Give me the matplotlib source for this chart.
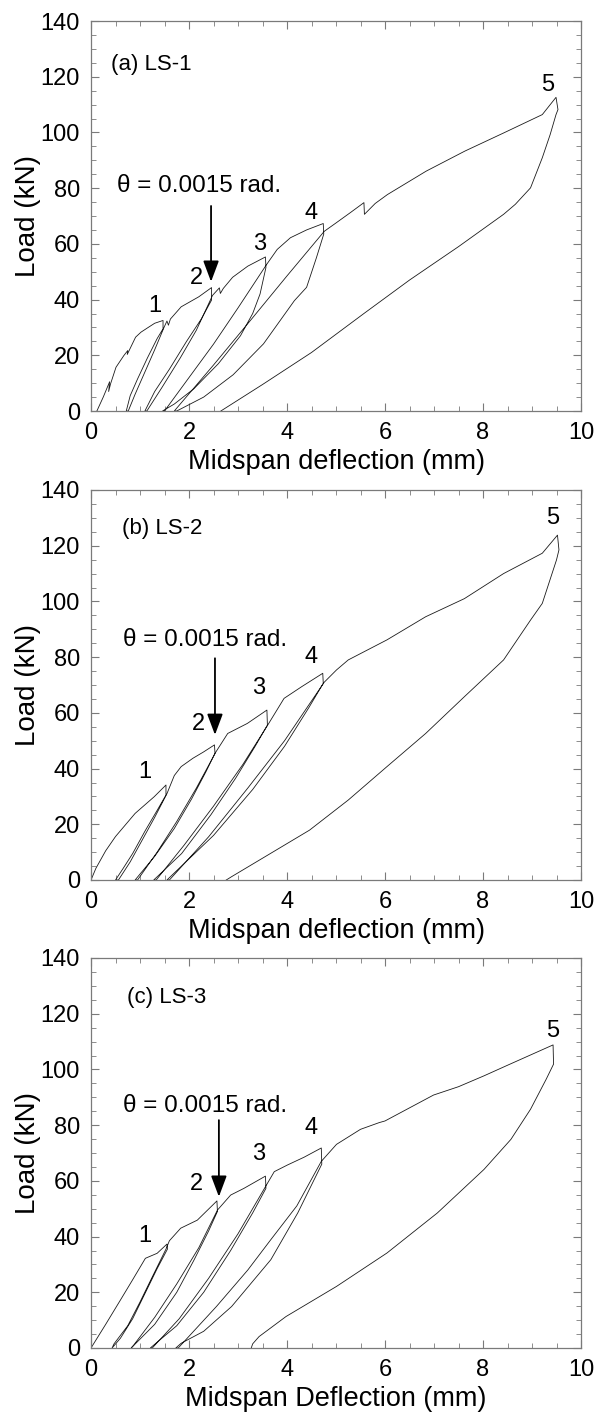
import numpy as np
import matplotlib
matplotlib.use("Agg")
import matplotlib.pyplot as plt
from matplotlib.ticker import MultipleLocator

plt.rcParams["font.family"] = ["Liberation Sans", "DejaVu Sans"]

# LS-1: load-deflection history (mm, kN)
ls1_x = [0.12, 0.25, 0.38, 0.36, 0.40, 0.51, 0.67, 0.75, 0.74, 0.80, 0.91, 1.02, 1.15, 1.30, 1.47, 1.47,
         1.35, 1.15, 0.95, 0.80, 0.72,
         0.76, 0.90, 1.10, 1.30, 1.49,
         1.55, 1.58, 1.62, 1.84, 1.99, 2.20, 2.46, 2.46,
         2.25, 1.95, 1.60, 1.30, 1.10,
         1.14, 1.45, 1.82, 2.15, 2.48,
         2.62, 2.64, 2.70, 2.89, 3.20, 3.56, 3.57,
         3.45, 3.30, 3.05, 2.60, 2.10, 1.70, 1.46,
         1.50, 2.00, 2.50, 3.00, 3.58,
         3.80, 4.07, 4.40, 4.74, 4.75,
         4.60, 4.40, 4.15, 3.52, 2.90, 2.30, 1.75,
         1.70, 2.50, 3.30, 4.00, 4.76,
         5.00, 5.30, 5.57, 5.58, 5.80, 6.05, 6.84, 7.63, 8.42, 9.21, 9.49, 9.53,
         9.49, 9.37, 9.21, 8.97, 8.66, 8.42, 7.50, 6.50, 5.57, 4.50, 3.50, 2.65]
ls1_y = [0.0, 5.0, 10.5, 7.0, 9.8, 15.7, 19.9, 21.7, 20.3, 22.5, 26.5, 28.3, 29.8, 31.5, 32.5, 29.5,
         26.0, 19.0, 11.5, 5.5, 0.0,
         0.0, 6.0, 14.0, 22.0, 30.0,
         32.3, 30.8, 33.0, 37.4, 38.9, 41.0, 44.3, 39.8,
         33.0, 25.0, 15.0, 7.0, 0.0,
         0.0, 8.5, 19.0, 29.0, 41.5,
         44.2, 42.2, 44.0, 48.0, 52.0, 55.3, 51.5,
         42.0, 35.0, 27.0, 17.0, 8.0, 2.5, 0.0,
         0.0, 12.0, 24.0, 37.0, 52.5,
         58.0, 62.2, 65.0, 67.3, 63.5,
         55.0, 44.4, 39.6, 24.1, 13.0, 5.0, 0.0,
         0.0, 16.5, 33.5, 48.5, 64.5,
         67.5, 71.3, 74.8, 70.6, 74.5, 77.7, 86.1, 93.3, 99.8, 106.4, 112.6, 108.2,
         106.4, 99.2, 90.9, 80.1, 74.2, 70.6, 59.0, 47.0, 35.0, 21.0, 9.5, 0.0]

# LS-2
ls2_x = [0.0, 0.10, 0.30, 0.50, 0.90, 1.29, 1.53, 1.53,
         1.35, 1.10, 0.85, 0.65, 0.50,
         0.56, 0.80, 1.05, 1.30, 1.55,
         1.70, 1.84, 2.08, 2.30, 2.52, 2.53,
         2.35, 2.05, 1.70, 1.30, 0.90,
         0.95, 1.35, 1.75, 2.15, 2.55,
         2.79, 3.19, 3.59, 3.60,
         3.35, 2.95, 2.45, 1.85, 1.28,
         1.33, 1.90, 2.50, 3.10, 3.62,
         3.94, 4.30, 4.73, 4.74,
         4.45, 3.95, 3.30, 2.50, 1.55,
         1.60, 2.40, 3.20, 3.95, 4.76,
         5.01, 5.25, 6.04, 6.83, 7.62, 8.42, 9.21, 9.52, 9.55,
         9.50, 9.21, 8.97, 8.42, 7.62, 6.83, 6.04, 5.25, 4.46, 3.67, 2.87, 2.76]
ls2_y = [0.0, 4.2, 10.5, 15.6, 23.9, 29.9, 34.1, 30.5,
         25.0, 17.5, 9.5, 4.0, 0.0,
         0.0, 6.5, 14.5, 22.5, 31.0,
         37.5, 40.7, 43.7, 46.0, 48.5, 45.5,
         39.0, 29.0, 18.5, 8.5, 0.0,
         0.0, 10.0, 21.0, 33.0, 46.0,
         52.6, 56.2, 61.0, 55.6,
         48.0, 36.5, 23.5, 9.5, 0.0,
         0.0, 12.5, 26.5, 41.5, 56.0,
         65.2, 69.4, 74.2, 70.6,
         62.0, 48.0, 32.5, 16.0, 0.0,
         0.0, 15.5, 33.0, 50.0, 71.0,
         75.4, 79.0, 86.2, 94.5, 101.0, 110.0, 117.3, 123.8, 118.5,
         114.9, 99.3, 93.3, 79.0, 65.8, 52.6, 40.7, 28.7, 17.9, 9.6, 1.2, 0.0]

# LS-3
ls3_x = [0.0, 0.30, 0.60, 0.85, 1.11, 1.35, 1.55, 1.56,
         1.35, 1.10, 0.85, 0.60, 0.43,
         0.47, 0.75, 1.00, 1.25, 1.53,
         1.60, 1.83, 2.17, 2.57, 2.58,
         2.40, 2.10, 1.75, 1.30, 0.82,
         0.87, 1.30, 1.75, 2.20, 2.58,
         2.85, 3.12, 3.56, 3.57,
         3.30, 2.85, 2.30, 1.75, 1.21,
         1.25, 1.80, 2.40, 3.00, 3.58,
         3.74, 4.01, 4.35, 4.70, 4.71,
         4.22, 3.67, 2.87, 2.30, 1.84, 1.73,
         1.78, 2.56, 3.20, 3.67, 4.20, 4.70,
         5.01, 5.50, 5.88, 6.00, 6.99, 7.50, 8.02, 8.50, 9.43, 9.44,
         9.29, 8.97, 8.57, 8.02, 7.07, 6.04, 5.01, 3.98, 3.43, 3.30, 3.27]
ls3_y = [0.0, 8.5, 17.2, 24.5, 32.2, 34.0, 37.3, 35.5,
         28.5, 19.5, 10.5, 3.5, 0.0,
         1.5, 8.0, 16.5, 25.5, 35.5,
         38.5, 43.0, 45.9, 52.8, 49.0,
         42.0, 31.5, 20.0, 8.5, 0.0,
         1.0, 11.0, 23.0, 36.0, 49.5,
         54.9, 57.3, 61.7, 57.3,
         48.5, 35.0, 20.0, 8.0, 0.0,
         0.0, 10.5, 25.0, 41.0, 58.5,
         63.3, 65.7, 68.5, 71.8, 66.0,
         48.5, 31.7, 14.9, 6.0, 1.7, 0.0,
         0.0, 14.9, 28.0, 38.9, 51.0, 67.0,
         73.1, 78.5, 80.9, 81.5, 90.8, 93.8, 97.7, 101.5, 108.8, 101.9,
         96.5, 85.7, 74.9, 64.1, 48.5, 34.1, 22.1, 11.3, 4.1, 1.5, 0.0]

panel_titles = ["(a) LS-1", "(b) LS-2", "(c) LS-3"]
x_labels = ["Midspan deflection (mm)", "Midspan deflection (mm)", "Midspan Deflection (mm)"]
cycle_labels = ["1", "2", "3", "4", "5"]
# label positions (x, y) for cycle numbers in each panel
cycle_pos = [
    [(1.30, 37.8), (2.16, 47.9), (3.44, 59.9), (4.50, 71.2), (9.31, 117.1)],
    [(1.09, 38.9), (2.19, 55.9), (3.43, 68.8), (4.50, 80.2), (9.43, 129.8)],
    [(1.09, 40.1), (2.16, 58.7), (3.43, 69.5), (4.50, 79.1), (9.43, 113.9)],
]
title_pos = [(0.40, 124.5), (0.64, 126.2), (0.74, 125.9)]
# arrow: x, start y, tip y ; text centre
arrow_x = [2.45, 2.53, 2.61]
arrow_top = [73.6, 79.6, 81.8]
arrow_tip = [46.4, 52.1, 54.3]
theta_pos = [(2.21, 80.7), (2.32, 86.2), (2.32, 86.9)]

curves = [(ls1_x, ls1_y), (ls2_x, ls2_y), (ls3_x, ls3_y)]

W, H = 608, 1416
fig = plt.figure(figsize=(W / 100, H / 100), dpi=100)

ax_left = 91 / W
ax_w = 490 / W
ax_h = 390 / H
bottoms_px = [411, 880, 1348]

spine_col = "#7a7a7a"

for i in range(3):
    ax = fig.add_axes([ax_left, (H - bottoms_px[i]) / H, ax_w, ax_h])
    cx, cy = curves[i]
    ax.plot(cx, cy, color="#1a1a1a", lw=0.6)

    ax.set_xlim(0, 10)
    ax.set_ylim(0, 140)
    ax.xaxis.set_major_locator(MultipleLocator(2))
    ax.xaxis.set_minor_locator(MultipleLocator(0.5))
    ax.yaxis.set_major_locator(MultipleLocator(20))
    ax.yaxis.set_minor_locator(MultipleLocator(5))
    ax.tick_params(which="both", direction="in", top=True, right=True,
                   color=spine_col, labelsize=17)
    ax.tick_params(which="major", length=6, width=0.8)
    ax.tick_params(which="minor", length=3.5, width=0.6)
    ax.tick_params(axis="x", which="major", pad=8)
    ax.tick_params(axis="y", which="major", pad=8)
    for s in ax.spines.values():
        s.set_color(spine_col)
        s.set_linewidth(0.9)

    ax.set_xlabel(x_labels[i], fontsize=19.5)
    ax.set_ylabel("Load (kN)", fontsize=20)
    ax.xaxis.set_label_coords(0.5, -0.098)
    ax.yaxis.set_label_coords(-0.103, 0.5)

    ax.text(title_pos[i][0], title_pos[i][1], panel_titles[i], fontsize=16,
            ha="left", va="center")
    for lab, (px, py) in zip(cycle_labels, cycle_pos[i]):
        ax.text(px, py, lab, fontsize=17, ha="center", va="center")

    ax.annotate("", xy=(arrow_x[i], arrow_tip[i]), xytext=(arrow_x[i], arrow_top[i]),
                arrowprops=dict(arrowstyle="-|>,head_length=0.8,head_width=0.3",
                                color="k", lw=1.3, mutation_scale=16,
                                shrinkA=0, shrinkB=0))
    ax.text(theta_pos[i][0], theta_pos[i][1], "θ = 0.0015 rad.", fontsize=17.5,
            ha="center", va="center")

fig.savefig("out.png", dpi=100)
